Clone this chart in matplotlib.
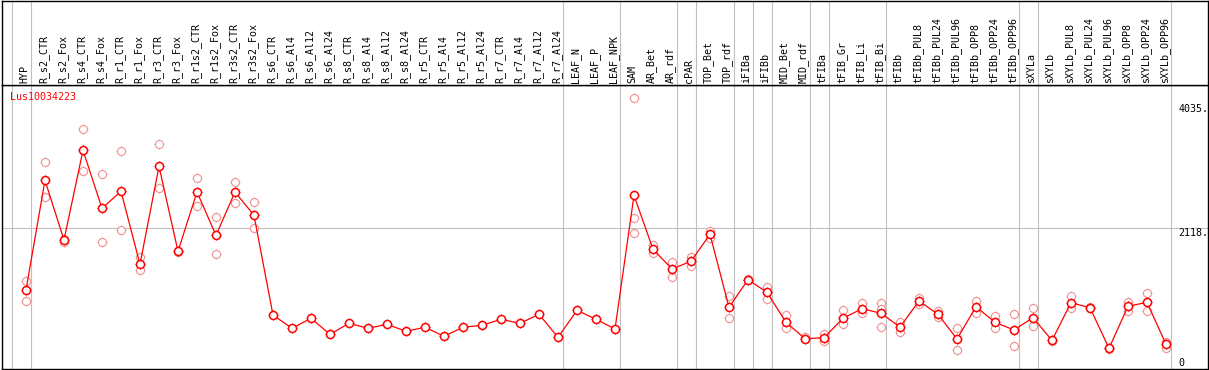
import matplotlib
matplotlib.use("Agg")
import matplotlib.pyplot as plt

# --- data ---
labels = ["HYP", "R_s2_CTR", "R_s2_Fox", "R_s4_CTR", "R_s4_Fox", "R_r1_CTR", "R_r1_Fox",
          "R_r3_CTR", "R_r3_Fox", "R_r1s2_CTR", "R_r1s2_Fox", "R_r3s2_CTR", "R_r3s2_Fox",
          "R_s6_CTR", "R_s6_Al4", "R_s6_Al12", "R_s6_Al24", "R_s8_CTR", "R_s8_Al4",
          "R_s8_Al12", "R_s8_Al24", "R_r5_CTR", "R_r5_Al4", "R_r5_Al12", "R_r5_Al24",
          "R_r7_CTR", "R_r7_Al4", "R_r7_Al12", "R_r7_Al24", "LEAF_N", "LEAF_P", "LEAF_NPK",
          "SAM", "AR_Bet", "AR_rdf", "cPAR", "TOP_Bet", "TOP_rdf", "iFIBa", "iFIBb",
          "MID_Bet", "MID_rdf", "tFIBa", "tFIB_Gr", "tFIB_Li", "tFIB_Bi", "tFIBb",
          "tFIBb_PUL8", "tFIBb_PUL24", "tFIBb_PUL96", "tFIBb_OPP8", "tFIBb_OPP24",
          "tFIBb_OPP96", "sXYLa", "sXYLb", "sXYLb_PUL8", "sXYLb_PUL24", "sXYLb_PUL96",
          "sXYLb_OPP8", "sXYLb_OPP24", "sXYLb_OPP96"]

mean_vals = [1166, 2858, 1937, 3320, 2426, 2688, 1562, 3074, 1763, 2677, 2010, 2677, 2318,
             780, 575, 729, 483, 652, 575, 637, 529, 591, 452, 591, 622, 714, 652, 791, 436,
             853, 714, 564,
             2626, 1794, 1490, 1609, 2025, 899, 1325, 1130, 668, 415, 430, 729, 878, 807, 595,
             996, 791, 410, 908, 668, 549, 739, 390, 970, 893, 267, 915, 976, 328]

replicates = [[1305, 996], [3135, 2596], [1911, 1950], [3644, 2997], [2950, 1902],
              [3305, 2087], [1670, 1470], [3413, 2734], [1772, 1755], [2889, 2457],
              [2287, 1717], [2827, 2512], [2519, 2118],
              [], [], [], [], [], [], [], [], [], [], [], [], [], [], [], [],
              [], [], [],
              [4122, 2272, 2040], [1860, 1732], [1593, 1362], [1680, 1536], [2080, 1968],
              [1069, 729], [1330, 1320], [1208, 1032], [776, 575], [446, 406], [487, 375],
              [853, 646], [961, 816], [961, 868, 600], [677, 514],
              [1038, 950], [847, 745], [575, 245], [996, 811], [765, 585], [791, 298],
              [893, 615], [400, 380], [1069, 884], [900, 886], [275, 260], [985, 847],
              [1115, 837], [369, 276]]

# columns after which a group separator is drawn (0 = left edge)
group_ends = [0, 1, 29, 32, 35, 36, 38, 39, 40, 42, 43, 46, 53, 54, 61]
gene = "Lus10034223"
ref_ticks = [4035, 2118]

# --- style ---
RED = "#ff0000"
FAINT = "#f09090"
GRID = "#c0c0c0"
FONT = "DejaVu Sans Mono"
FS = 7.2

W, H = 1209, 370
fig = plt.figure(figsize=(W / 100, H / 100), dpi=100)
fig.patch.set_facecolor("white")

# pixel layout
px_left, px_right, px_sep, px_bot = 1.5, 1208, 85.3, 369
ax = fig.add_axes([px_left / W, (H - px_bot) / H, (px_right - px_left) / W, (px_bot - px_sep) / H])
hax = fig.add_axes([px_left / W, (H - px_sep) / H, (px_right - px_left) / W, (px_sep - 0.8) / H])

xlim = (1 + (px_left - 26) / 19, 1 + (px_right - 26) / 19)
val_of_px = lambda p: (365.6 - p) / 0.06484

for a in (ax, hax):
    a.set_xlim(*xlim)
    a.set_xticks([])
    a.set_yticks([])
    for s in a.spines.values():
        s.set_color("black")
        s.set_linewidth(1.0)
    for g in group_ends:
        a.axvline(g + 0.25, color=GRID, lw=0.8, zorder=0)

ax.set_ylim(val_of_px(px_bot), val_of_px(px_sep))
hax.set_ylim(0, px_sep)

x = list(range(1, len(labels) + 1))

# header labels
for xi, lab in zip(x, labels):
    hax.text(xi - 0.08, 2.0, lab, rotation=90, ha="center", va="bottom",
             fontsize=FS, family=FONT, color="black")

# reference line
ax.axhline(ref_ticks[1], color=GRID, lw=0.8, zorder=0)

# replicate points
rx, ry = [], []
for xi, reps in zip(x, replicates):
    for r in reps:
        rx.append(xi)
        ry.append(r)
ax.plot(rx, ry, ls="none", marker="+", ms=7.2, mew=0.6, color=FAINT, zorder=2)
ax.plot(rx, ry, ls="none", marker="o", ms=5.8, mew=0.8, mfc="white", mec=FAINT, zorder=2.1)

# mean line + points
ax.plot(x, mean_vals, color=RED, lw=0.9, zorder=3)
ax.plot(x, mean_vals, ls="none", marker="+", ms=7.2, mew=0.7, color=RED, zorder=4)
ax.plot(x, mean_vals, ls="none", marker="o", ms=5.8, mew=1.1, mfc="white", mec=RED, zorder=5)

# gene name
ax.text((10 - px_left) / (px_right - px_left), (px_bot - 97) / (px_bot - px_sep), gene,
        transform=ax.transAxes, ha="left", va="center", fontsize=FS, family=FONT, color=RED)

# right-hand scale labels
lab_x = 1 + (1178.7 - 26) / 19
for t in ref_ticks:
    ax.text(lab_x, t, f"{t}.", ha="left", va="top", fontsize=FS, family=FONT, color="black")
ax.text(lab_x, 0, "0", ha="left", va="baseline", fontsize=FS, family=FONT, color="black")

fig.savefig("out.png", dpi=100, facecolor="white")
